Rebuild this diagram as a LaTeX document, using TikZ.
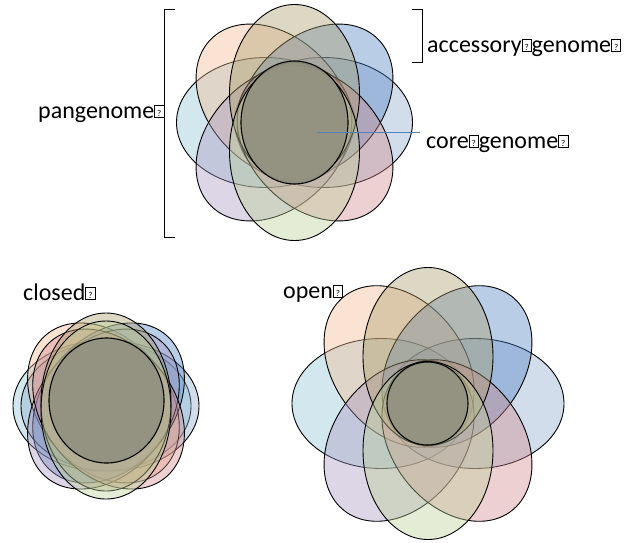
\documentclass[tikz,border=0pt]{standalone}
\usepackage{fontspec}
\setmainfont{Carlito}
\definecolor{pOrange}{HTML}{F5B991}
\definecolor{pTan}{HTML}{AA9D6B}
\definecolor{pBlue}{HTML}{4F82C3}
\definecolor{pCyan}{HTML}{91C5D4}
\definecolor{pSteel}{HTML}{8CAACD}
\definecolor{pPurple}{HTML}{AA98C0}
\definecolor{pPink}{HTML}{D2898E}
\definecolor{pGreen}{HTML}{BBCF98}
\definecolor{coreC}{HTML}{919180}
\definecolor{lineBlue}{HTML}{4F81BD}
\newcommand\qbox{\raisebox{1.6pt}{\fboxsep=1pt\fboxrule=0.6pt\fbox{\hspace{1.3pt}\rule{0pt}{10pt}{\fontsize{9}{9}\selectfont ?}\hspace{1.3pt}}}}
\tikzset{
  petal/.style={draw=black, line width=0.9pt, fill opacity=0.4},
  corestyle/.style={draw=black, line width=1.1pt, fill=coreC, fill opacity=0.9},
  lbl/.style={anchor=base west, inner sep=0pt, font=\fontsize{24}{28}\selectfont},
  brk/.style={draw=black, line width=0.8pt},
  blueline/.style={draw=lineBlue, line width=1pt}
}
% #1 cx, #2 cy, #3 offset, #4 angle
\newcommand\flower[4]{%
  \draw[petal, fill=pCyan, shift={({#1-#3},{#2})}] (0,0) ellipse [x radius=89, y radius=65];
  \draw[petal, fill=pSteel, shift={({#1+#3},{#2})}] (0,0) ellipse [x radius=89, y radius=65];
  \draw[petal, fill=pOrange, shift={({#1-#3*cos(#4)},{#2-#3*sin(#4)})}, rotate=-#4] (0,0) ellipse [x radius=89, y radius=65];
  \draw[petal, fill=pBlue, shift={({#1+#3*cos(#4)},{#2-#3*sin(#4)})}, rotate=#4] (0,0) ellipse [x radius=89, y radius=65];
  \draw[petal, fill=pPurple, shift={({#1-#3*cos(#4)},{#2+#3*sin(#4)})}, rotate=#4] (0,0) ellipse [x radius=89, y radius=65];
  \draw[petal, fill=pPink, shift={({#1+#3*cos(#4)},{#2+#3*sin(#4)})}, rotate=-#4] (0,0) ellipse [x radius=89, y radius=65];
  \draw[petal, fill=pTan, shift={({#1},{#2-#3})}] (0,0) ellipse [x radius=65, y radius=89];
  \draw[petal, fill=pGreen, shift={({#1},{#2+#3})}] (0,0) ellipse [x radius=65, y radius=89];
}
\begin{document}
\begin{tikzpicture}[x=1pt, y=-1pt]
\useasboundingbox (0,0) rectangle (626,542);
% top flower
\flower{294.5}{122.5}{29}{45}
\draw[corestyle] (294.5,122.5) ellipse [x radius=53.5, y radius=61.5];
% closed flower
\flower{106}{406}{4}{50}
\draw[corestyle] (106.5,400.5) ellipse [x radius=57.5, y radius=62.5];
% open flower
\flower{428}{403.5}{47}{52}
\draw[corestyle] (427.5,403.5) ellipse [x radius=40.5, y radius=41.5];
% brackets
\draw[brk] (175,9) -- (164,9) -- (164,237) -- (175,237);
\draw[brk] (412,9) -- (422,9) -- (422,62) -- (412,62);
% labels
\node[lbl] (pan) at (38,118) {pangenome\qbox};
\node[lbl] (acc) at (427,52) {accessory\qbox genome\qbox};
\node[lbl] (coretxt) at (426,148) {core\qbox genome\qbox};
\node[lbl] (closed) at (23,300) {closed\qbox};
\node[lbl] (open) at (283,298) {open\qbox};
\coordinate (coreIn) at (317,132);
\coordinate (coreOut) at (420,132);
\draw[blueline] (coreIn) -- (coreOut);
\end{tikzpicture}
\end{document}
